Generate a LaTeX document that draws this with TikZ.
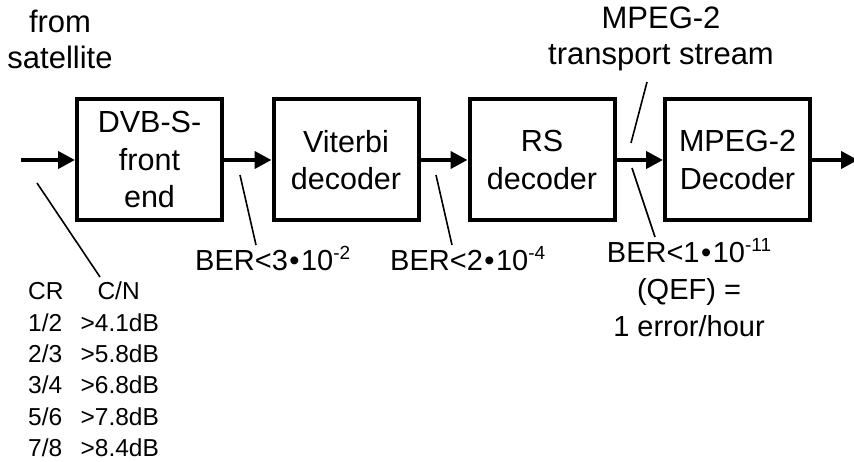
\documentclass[tikz,border=0pt]{standalone}
\usepackage{fontspec}
\setmainfont{Liberation Sans}
\usetikzlibrary{arrows.meta}
\newcommand{\supx}[1]{\raisebox{11pt}{\fontsize{19}{19}\selectfont #1}}
\newcommand{\bul}{\hspace{1.5pt}•\hspace{1.5pt}}
\begin{document}
\begin{tikzpicture}[x=1pt,y=-1pt,
  blk/.style={draw, line width=4pt, minimum width=145pt, minimum height=121pt, inner sep=0pt, align=center, font=\fontsize{30.5}{37.5}\selectfont},
  flow/.style={line width=4pt, -{Triangle[length=17pt,width=17pt]}},
  lead/.style={line width=1.6pt},
  lbl/.style={inner sep=0pt, align=center, font=\fontsize{31}{36}\selectfont},
  ber/.style={inner sep=0pt, font=\fontsize{29}{37}\selectfont},
  tbl/.style={inner sep=0pt, font=\fontsize{24.5}{31.3}\selectfont}
]
\useasboundingbox (0,0) rectangle (854,462);

% blocks
\node[blk] (b1) at (149.5,160) {DVB-S-\\front\\end};
\node[blk] (b2) at (346,160) {Viterbi\\decoder};
\node[blk] (b3) at (542,160) {RS\\decoder};
\node[blk] (b4) at (737.5,160) {MPEG-2\\Decoder};

% flow
\coordinate (in) at (21,160);
\coordinate (out) at (858,160);
\draw[flow] (in) -- (b1);
\draw[flow] (b1) -- (b2);
\draw[flow] (b2) -- (b3);
\draw[flow] (b3) -- (b4);
\draw[flow] (b4) -- (out);

% labels
\node[lbl, anchor=north] (sat) at (60,10) {from\\satellite};
\node[lbl, anchor=north] (ts) at (661,7) {MPEG-2\\transport stream};
\node[ber, anchor=base west] (ber1) at (195,271) {BER<3\bul 10\supx{-2}};
\node[ber, anchor=base west] (ber2) at (390,271) {BER<2\bul 10\supx{-4}};
\node[ber, anchor=base] (ber3) at (689,263) {\begin{tabular}[t]{@{}c@{}}BER<1\bul 10\supx{-11}\\(QEF) =\\1 error/hour\end{tabular}};

\node[tbl, anchor=base west] (tab) at (28,300) {\begin{tabular}[t]{@{}l@{\hspace{17pt}}l@{}}
CR & \hspace{17pt}C/N\\
1/2 & >4.1dB\\
2/3 & >5.8dB\\
3/4 & >6.8dB\\
5/6 & >7.8dB\\
7/8 & >8.4dB
\end{tabular}};

% leader lines
\coordinate (l1a) at (37,183);  \coordinate (l1b) at (100,277);
\coordinate (l2a) at (240,175); \coordinate (l2b) at (256,245);
\coordinate (l3a) at (436,175); \coordinate (l3b) at (452,245);
\coordinate (l4a) at (647,82);  \coordinate (l4b) at (631,143);
\coordinate (l5a) at (632,168); \coordinate (l5b) at (655,237);
\draw[lead] (l1a) -- (l1b);
\draw[lead] (l2a) -- (l2b);
\draw[lead] (l3a) -- (l3b);
\draw[lead] (l4a) -- (l4b);
\draw[lead] (l5a) -- (l5b);
\end{tikzpicture}
\end{document}
